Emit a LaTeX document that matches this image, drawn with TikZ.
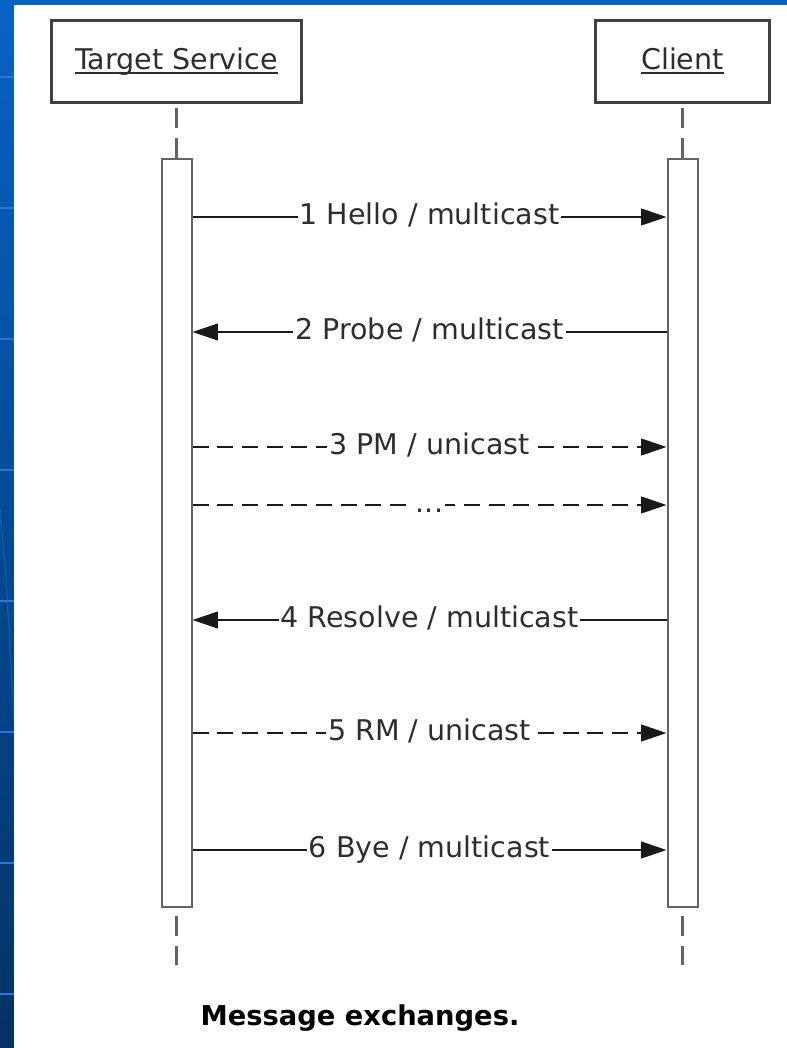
\documentclass[tikz,border=0pt]{standalone}
\usepackage{fontspec}
\setmainfont{DejaVu Sans}
\usepackage{tikz}
\definecolor{slideblue}{RGB}{8, 98, 198}
\definecolor{slidedark}{RGB}{3, 50, 100}
\definecolor{stripe}{RGB}{40, 120, 215}
\definecolor{framegray}{RGB}{64, 64, 64}
\definecolor{bargray}{RGB}{100, 100, 100}
\definecolor{inkgray}{RGB}{45, 45, 45}
\usetikzlibrary{
  arrows.meta,
  calc,
  positioning,
}
\tikzset{
  >={Triangle[length=19pt, width=12.5pt]},
}
% underlined participant name
\newcommand{\ulabel}[1]{\setbox0\hbox{#1}\rlap{\rule[-4pt]{\wd0}{1.5pt}}\box0}

\begin{document}
\begin{tikzpicture}[x=0.75pt, y=-0.75pt,
    actor/.style={draw=framegray, line width=2.2pt, fill=white, minimum height=61.5pt,
                  text height=15.5pt, text depth=4pt, text=inkgray,
                  font=\fontsize{21.4}{26}\selectfont},
    bar/.style={draw=bargray, line width=1.5pt, fill=white, minimum width=22.5pt,
                minimum height=561pt, inner sep=0pt},
    life/.style={draw=bargray, line width=2.2pt, dash pattern=on 15pt off 7.5pt},
    msg/.style={draw=black!90, line width=1.4pt, ->},
    async/.style={msg, dash pattern=on 12pt off 6.5pt},
    tag/.style={fill=white, inner xsep=1.5pt, inner ysep=1pt, text=inkgray,
                text height=15.5pt, text depth=4pt,
                font=\fontsize{21.4}{26}\selectfont}]
      \useasboundingbox (0,0) rectangle (787,1048);
      % slide background
      \shade [top color=slideblue, bottom color=slidedark] (0,0) rectangle (787,1048);
      \foreach \yy in {77,208,...,994}
        \draw [stripe, line width=1.5pt] (0,\yy) -- (14,\yy);
      \draw [stripe, opacity=0.35, line width=1pt] (0,510) .. controls (7,590) .. (14,720);
      \fill [white] (14,5) rectangle (800,1060);

      % participants and activation bars
      \node [actor, minimum width=187.5pt] (target) at (176.5,61.5) {\ulabel{Target Service}};
      \node [actor, minimum width=130.5pt] (client) at (682.5,61.5) {\ulabel{Client}};
      \node [bar] (tbar) at (176.5,533) {};
      \node [bar] (cbar) at (682.5,533) {};
      \coordinate (tend) at (176.5,965);
      \coordinate (cend) at (682.5,965);
      \draw [life] (tbar.north) -- (target.south);
      \draw [life] (cbar.north) -- (client.south);
      \draw [life, dash phase=16.5pt] (tbar.south) -- (tend);
      \draw [life, dash phase=16.5pt] (cbar.south) -- (cend);

      % message rows
      \coordinate (m1) at (0,217);
      \coordinate (m2) at (0,332);
      \coordinate (m3) at (0,447);
      \coordinate (m4) at (0,505);
      \coordinate (m5) at (0,620);
      \coordinate (m6) at (0,733);
      \coordinate (m7) at (0,850);
      \draw [msg] (tbar.east |- m1) -- node [tag] {1 Hello / multicast} (cbar.west |- m1);
      \draw [msg] (cbar.west |- m2) -- node [tag] {2 Probe / multicast} (tbar.east |- m2);
      \draw [async] (tbar.east |- m3) -- node [tag] {3 PM / unicast} (cbar.west |- m3);
      \draw [async] (tbar.east |- m4) -- node [tag] {...} (cbar.west |- m4);
      \draw [msg] (cbar.west |- m5) -- node [tag] {4 Resolve / multicast} (tbar.east |- m5);
      \draw [async] (tbar.east |- m6) -- node [tag] {5 RM / unicast} (cbar.west |- m6);
      \draw [msg] (tbar.east |- m7) -- node [tag] {6 Bye / multicast} (cbar.west |- m7);

      \node [anchor=base, font=\bfseries\fontsize{20.5}{24}\selectfont] (caption)
            at (360,1025) {Message exchanges.};
\end{tikzpicture}
\end{document}
